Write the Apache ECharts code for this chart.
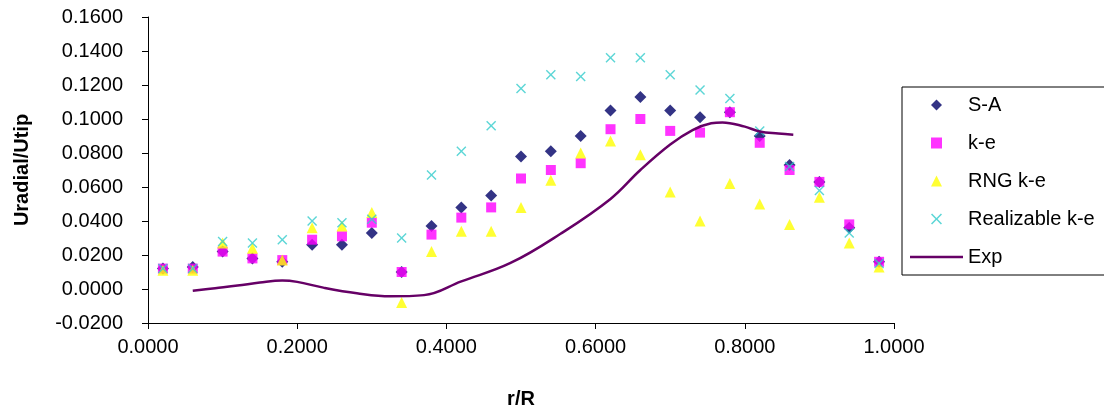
<!DOCTYPE html>
<html>
<head>
<meta charset="utf-8">
<script src="https://cdn.jsdelivr.net/npm/echarts@6/dist/echarts.min.js"></script>
<style>
  html, body { margin: 0; padding: 0; background: #ffffff; }
  #chart { width: 1104px; height: 414px; }
</style>
</head>
<body>
<div id="chart"></div>
<script>
// Radial positions of the computed profiles (r/R)
const radius = [0.02, 0.06, 0.10, 0.14, 0.18, 0.22, 0.26, 0.30, 0.34, 0.38, 0.42, 0.46, 0.50,
                0.54, 0.58, 0.62, 0.66, 0.70, 0.74, 0.78, 0.82, 0.86, 0.90, 0.94, 0.98];

// Uradial/Utip for each turbulence model
const spalartAllmaras = [0.012, 0.013, 0.022, 0.018, 0.016, 0.026, 0.026, 0.033, 0.010, 0.037, 0.048, 0.055, 0.078,
                         0.081, 0.090, 0.105, 0.113, 0.105, 0.101, 0.104, 0.090, 0.073, 0.063, 0.036, 0.016];
const kEpsilon = [0.012, 0.012, 0.022, 0.018, 0.017, 0.029, 0.031, 0.039, 0.010, 0.032, 0.042, 0.048, 0.065,
                  0.070, 0.074, 0.094, 0.100, 0.093, 0.092, 0.104, 0.086, 0.070, 0.063, 0.038, 0.016];
const rngKEpsilon = [0.011, 0.011, 0.027, 0.024, 0.017, 0.036, 0.037, 0.045, -0.008, 0.022, 0.034, 0.034, 0.048,
                     0.064, 0.080, 0.087, 0.079, 0.057, 0.040, 0.062, 0.050, 0.038, 0.054, 0.027, 0.013];
const realizableKEpsilon = [0.012, 0.012, 0.028, 0.027, 0.029, 0.040, 0.039, 0.041, 0.030, 0.067, 0.081, 0.096, 0.118,
                            0.126, 0.125, 0.136, 0.136, 0.126, 0.117, 0.112, 0.093, 0.072, 0.058, 0.033, 0.015];

// Experimental profile
const expRadius = [0.06, 0.09, 0.12, 0.15, 0.18, 0.20, 0.235, 0.28, 0.325, 0.37, 0.42, 0.486, 0.553,
                   0.62, 0.66, 0.70, 0.73, 0.755, 0.77, 0.80, 0.82, 0.845, 0.865];
const expVelocity = [-0.001, 0.0005, 0.002, 0.0038, 0.005, 0.0042, 0.0008, -0.0025, -0.0043, -0.0036, 0.0045, 0.0153, 0.0325,
                     0.053, 0.070, 0.085, 0.0935, 0.0975, 0.098, 0.0955, 0.0927, 0.0915, 0.0908];

// Axis ticks
const xTicks = { min: 0, max: 1, step: 0.2 };
const yTicks = { min: -0.02, max: 0.16, step: 0.02 };

const pair = (xs, ys) => xs.map((x, i) => [x, ys[i]]);
const FONT = '"Liberation Sans", Arial, sans-serif';

// Marker shapes as paths so they keep their proportions in the legend too
const diamondSymbol = 'path://M5,0L10,5L5,10L0,5Z';
const squareSymbol = 'path://M0,0H10V10H0Z';
const triangleSymbol = 'path://M5,0L10,10H0Z';
const crossSymbol = 'path://M0,1L1,0L5,4L9,0L10,1L6,5L10,9L9,10L5,6L1,10L0,9L4,5Z';
const lineIcon = 'path://M0,0H53V2.5H0Z';

const chart = echarts.init(document.getElementById('chart'), null, { renderer: 'canvas' });

chart.setOption({
  backgroundColor: '#ffffff',
  animation: false,
  textStyle: { fontFamily: FONT, color: '#000' },
  grid: { left: 148, right: 210, top: 17, bottom: 91, containLabel: false },
  legend: {
    orient: 'vertical',
    left: 902,
    top: 87,
    padding: [8, 60, 8, 8],
    itemGap: 18,
    itemWidth: 53,
    itemHeight: 11,
    symbolKeepAspect: true,
    borderColor: '#000',
    borderWidth: 1,
    backgroundColor: '#fff',
    textStyle: { fontFamily: FONT, fontSize: 20, color: '#000' },
    data: [
      { name: 'S-A', icon: diamondSymbol },
      { name: 'k-e', icon: squareSymbol },
      { name: 'RNG k-e', icon: triangleSymbol },
      { name: 'Realizable k-e', icon: crossSymbol },
      { name: 'Exp', icon: lineIcon }
    ]
  },
  xAxis: {
    type: 'value',
    min: xTicks.min,
    max: xTicks.max,
    interval: xTicks.step,
    name: 'r/R',
    nameLocation: 'middle',
    nameGap: 66,
    nameTextStyle: { fontFamily: FONT, fontSize: 20, fontWeight: 'bold', color: '#000' },
    axisLine: { onZero: false, lineStyle: { color: '#000', width: 1 } },
    axisTick: { show: true, inside: false, length: 6, lineStyle: { color: '#000' } },
    axisLabel: { margin: 14, fontSize: 20, fontFamily: FONT, color: '#000',
                 formatter: v => v.toFixed(4) },
    splitLine: { show: false }
  },
  yAxis: {
    type: 'value',
    min: yTicks.min,
    max: yTicks.max,
    interval: yTicks.step,
    name: 'Uradial/Utip',
    nameLocation: 'middle',
    nameGap: 116,
    nameTextStyle: { fontFamily: FONT, fontSize: 20, fontWeight: 'bold', color: '#000' },
    axisLine: { onZero: false, lineStyle: { color: '#000', width: 1 } },
    axisTick: { show: true, inside: false, length: 6, lineStyle: { color: '#000' } },
    axisLabel: { margin: 25, fontSize: 20, fontFamily: FONT, color: '#000',
                 formatter: v => v.toFixed(4) },
    splitLine: { show: false }
  },
  series: [
    {
      name: 'S-A', type: 'scatter', symbol: diamondSymbol, symbolSize: 12,
      itemStyle: { color: '#000066' },
      data: pair(radius, spalartAllmaras)
    },
    {
      name: 'k-e', type: 'scatter', symbol: squareSymbol, symbolSize: 10,
      itemStyle: { color: '#ff00ff' },
      data: pair(radius, kEpsilon)
    },
    {
      name: 'RNG k-e', type: 'scatter', symbol: triangleSymbol, symbolSize: 11,
      itemStyle: { color: '#ffff00' },
      data: pair(radius, rngKEpsilon)
    },
    {
      name: 'Realizable k-e', type: 'scatter', symbol: crossSymbol, symbolSize: 10,
      itemStyle: { color: '#33cccc' },
      data: pair(radius, realizableKEpsilon)
    },
    {
      name: 'Exp', type: 'line', symbol: 'none', smooth: 0.4,
      lineStyle: { color: '#660066', width: 2.5 },
      itemStyle: { color: '#660066' },
      data: pair(expRadius, expVelocity)
    }
  ]
});
</script>
</body>
</html>
